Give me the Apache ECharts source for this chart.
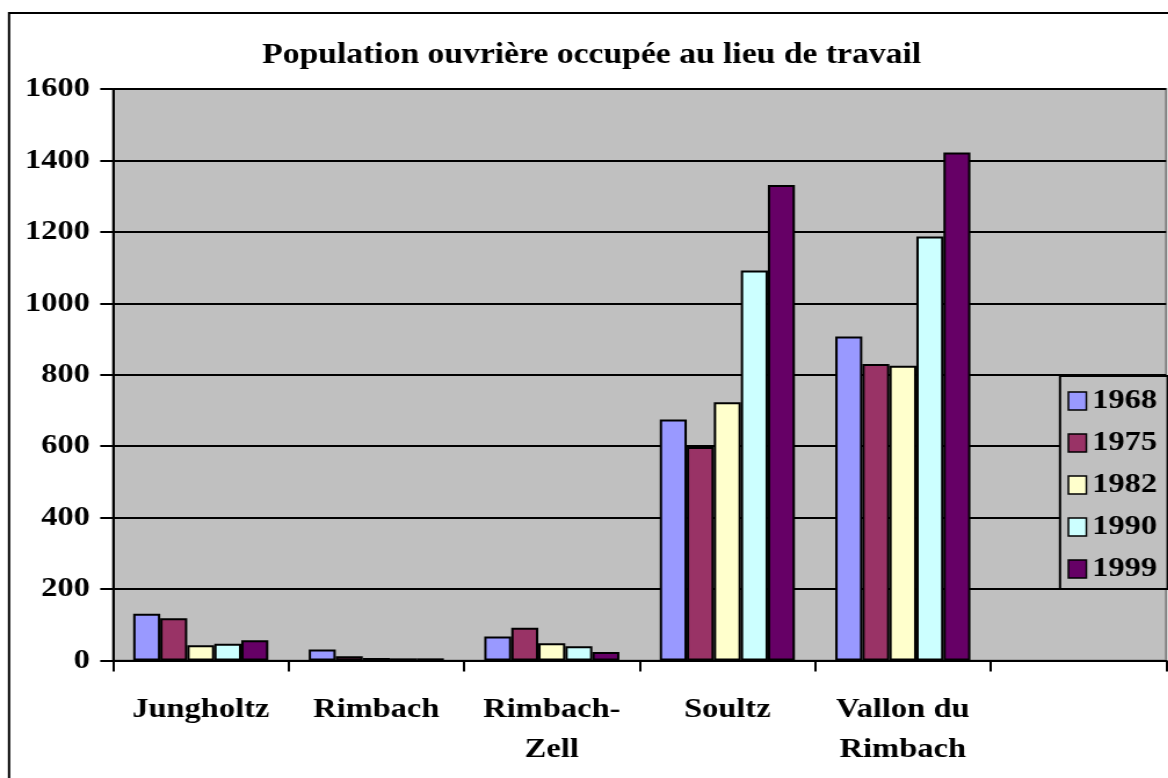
<!DOCTYPE html>
<html>
<head>
<meta charset="utf-8">
<script src="https://cdn.jsdelivr.net/npm/echarts@6/dist/echarts.min.js"></script>
<style>
  html, body { margin: 0; padding: 0; background: #fff; overflow: hidden; }
  #wrap { width: 1168px; height: 778px; overflow: hidden; position: relative; }
  /* the chart is drawn on a narrower canvas and widened to the full page */
  #chart { width: 1006.9px; height: 778px; transform: scaleX(1.16); transform-origin: 0 0; }
</style>
</head>
<body>
<div id="wrap"><div id="chart"></div></div>
<script>
const titleText = 'Population ouvrière occupée au lieu de travail';
const communes = ['Jungholtz', 'Rimbach', 'Rimbach-\nZell', 'Soultz', 'Vallon du\nRimbach', ''];
const years = ['1968', '1975', '1982', '1990', '1999'];
const v1968 = [131, 31, 67, 675, 907];
const v1975 = [118, 12, 92, 598, 830];
const v1982 = [43, 7, 48, 723, 825];
const v1990 = [47, 6, 40, 1092, 1187];
const v1999 = [57, 6, 24, 1331, 1422];
const yTicks = [0, 200, 400, 600, 800, 1000, 1200, 1400, 1600];

const seriesValues = [v1968, v1975, v1982, v1990, v1999];
const colors = ['#9999FF', '#993366', '#FFFFCC', '#CCFFFF', '#660066'];
const font = 'Liberation Serif';

const chart = echarts.init(document.getElementById('chart'), null, { renderer: 'canvas' });

chart.setOption({
  animation: false,
  title: {
    text: titleText,
    left: 510,
    top: 41,
    padding: 0,
    textAlign: 'center',
    textStyle: { fontFamily: font, fontWeight: 'bold', fontSize: 29, color: '#000' }
  },
  graphic: [{
    type: 'rect',
    shape: { x: 7.8, y: 13, width: 2000, height: 2000 },
    style: { fill: 'none', stroke: '#000', lineWidth: 2 },
    silent: true,
    z: -1
  }],
  legend: {
    orient: 'vertical',
    left: 913.8,
    top: 376,
    data: years,
    backgroundColor: '#C0C0C0',
    borderColor: '#000',
    borderWidth: 2,
    borderRadius: 0,
    padding: [11, 9, 6, 6.5],
    itemGap: 14,
    itemWidth: 15.5,
    itemHeight: 18,
    icon: 'rect',
    itemStyle: { borderColor: '#000', borderWidth: 1.5 },
    textStyle: { fontFamily: font, fontWeight: 'bold', fontSize: 28, color: '#000', lineHeight: 26 }
  },
  grid: {
    left: 97.41,
    right: 1.72,
    top: 89,
    bottom: 117.5,
    show: true,
    backgroundColor: '#C0C0C0',
    borderColor: '#808080',
    borderWidth: 2
  },
  xAxis: {
    type: 'category',
    data: communes,
    boundaryGap: true,
    axisLine: { lineStyle: { color: '#000', width: 2 } },
    axisTick: { show: true, interval: 0, length: 11, lineStyle: { color: '#000', width: 2 } },
    axisLabel: {
      interval: 0,
      margin: 29,
      fontFamily: font,
      fontWeight: 'bold',
      fontSize: 28,
      lineHeight: 40,
      color: '#000'
    }
  },
  yAxis: {
    type: 'value',
    min: yTicks[0],
    max: yTicks[yTicks.length - 1],
    interval: yTicks[1] - yTicks[0],
    axisLine: { show: true, lineStyle: { color: '#000', width: 2 } },
    axisTick: { show: true, length: 11, lineStyle: { color: '#000', width: 2 } },
    splitLine: { show: true, lineStyle: { color: '#000', width: 2 } },
    axisLabel: {
      margin: 19.8,
      formatter: v => String(v),
      fontFamily: font,
      fontWeight: 'bold',
      fontSize: 28,
      color: '#000'
    }
  },
  series: years.map((y, i) => ({
    name: y,
    type: 'bar',
    data: seriesValues[i],
    barGap: '0%',
    barCategoryGap: '23%',
    itemStyle: { color: colors[i], borderColor: '#000', borderWidth: 2 }
  }))
});
</script>
</body>
</html>
